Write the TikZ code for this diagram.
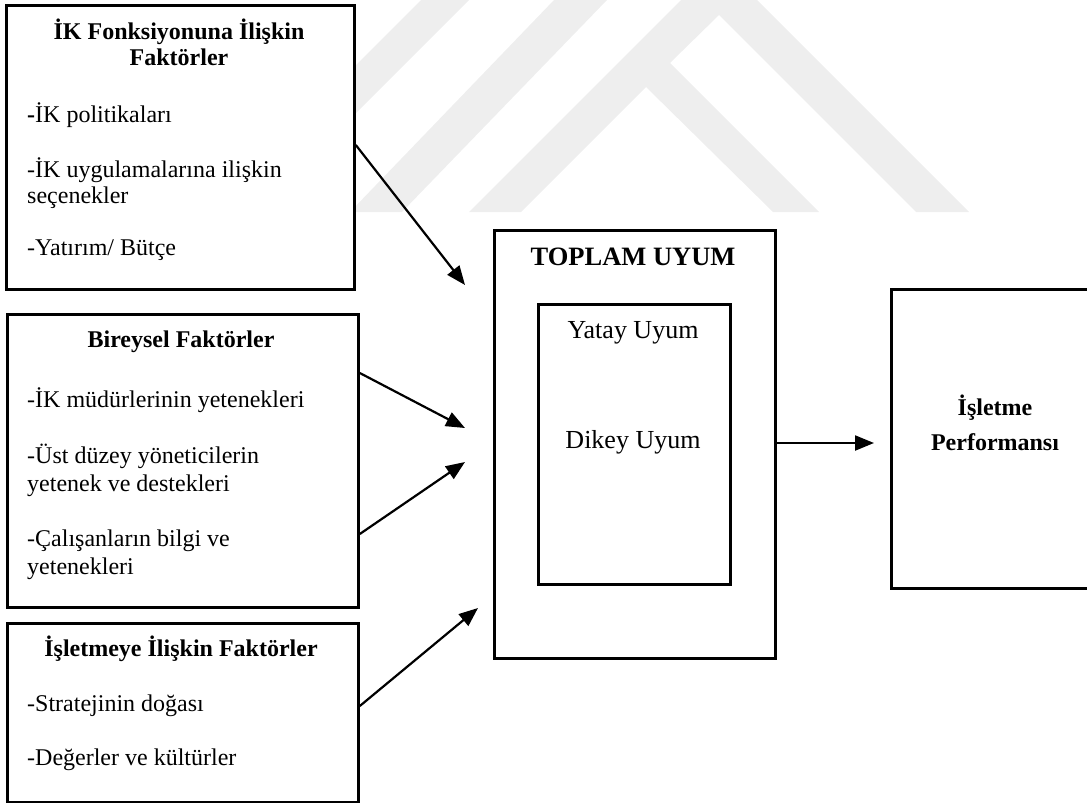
\documentclass[tikz,border=0pt]{standalone}
\usepackage{fontspec}
\setmainfont{Liberation Serif}
\usetikzlibrary{arrows.meta}
\definecolor{wmark}{HTML}{EEEEEE}
\begin{document}
\begin{tikzpicture}[x=1pt,y=-1pt,
  box/.style={draw, fill=white, line width=2.8pt, inner sep=0pt, anchor=north west},
  conn/.style={line width=2.2pt, -{Triangle[length=19pt,width=15pt]}},
  itm/.style={inner sep=0pt, anchor=base west, font=\fontsize{24}{28}\selectfont},
  ttl/.style={inner sep=0pt, anchor=base, font=\fontsize{24}{28}\selectfont\bfseries},
  big/.style={inner sep=0pt, anchor=base, font=\fontsize{26.5}{30}\selectfont\bfseries},
  mid/.style={inner sep=0pt, anchor=base, font=\fontsize{26}{30}\selectfont},
  wm/.style={fill=wmark, draw=none},
]
\useasboundingbox (0,0) rectangle (1087,803);
\clip (0,0) rectangle (1087,803);

% faint background watermark
\fill[wm] (421,0) -- (469,0) -- (257,212) -- (209,212) -- cycle;
\fill[wm] (554,0) -- (607,0) -- (402,212) -- (350,212) -- cycle;
\fill[wm] (469,212) -- (719,-38) -- (969,212) -- (916,212) -- (719,15)
   -- (670,63) -- (819,212) -- (773,212) -- (646,87) -- (521,212) -- cycle;

% boxes
\node[box, minimum width=348pt, minimum height=284pt] (A) at (5,4) {};
\node[box, minimum width=351pt, minimum height=293pt] (B) at (6,313) {};
\node[box, minimum width=351pt, minimum height=179pt] (C) at (6,622) {};
\node[box, minimum width=281pt, minimum height=428pt] (T) at (493,229) {};
\node[box, minimum width=192pt, minimum height=280pt] (I) at (537,303) {};
\node[box, minimum width=220pt, minimum height=299pt] (P) at (890,288) {};

% box A texts
\node[ttl] (a0) at (179,39) {İK Fonksiyonuna İlişkin};
\node[ttl] (a0b) at (179,65) {Faktörler};
\node[itm] (a1) at (27,122) {\textbf{-}İK politikaları};
\node[itm] (a2) at (27,177) {-İK uygulamalarına ilişkin};
\node[itm] (a2b) at (27,203) {seçenekler};
\node[itm] (a3) at (27,255) {-Yatırım/ Bütçe};

% box B texts
\node[ttl] (b0) at (181,347) {Bireysel Faktörler};
\node[itm] (b1) at (27,407) {-İK müdürlerinin yetenekleri};
\node[itm] (b2) at (27,463) {-Üst düzey yöneticilerin};
\node[itm] (b2b) at (27,491) {yetenek ve destekleri};
\node[itm] (b3) at (27,546) {-Çalışanların bilgi ve};
\node[itm] (b3b) at (27,574) {yetenekleri};

% box C texts
\node[ttl] (c0) at (181,656) {İşletmeye İlişkin Faktörler};
\node[itm] (c1) at (27,711) {-Stratejinin doğası};
\node[itm] (c2) at (27,765) {-Değerler ve kültürler};

% toplam uyum
\node[big] (t0) at (633,265) {TOPLAM UYUM};
\node[mid] (i1) at (633,338) {Yatay Uyum};
\node[mid] (i2) at (633,448) {Dikey Uyum};

% performans
\node[ttl] (p1) at (995,415) {İşletme};
\node[ttl] (p2) at (995,450) {Performansı};

% connectors
\coordinate (s1) at (A.east |- 0,145);
\coordinate (e1) at (465,285);
\coordinate (s2) at (B.east |- 0,373);
\coordinate (e2) at (465,428);
\coordinate (s3) at (B.east |- 0,534);
\coordinate (e3) at (465,462);
\coordinate (s4) at (C.east |- 0,706);
\coordinate (e4) at (478,608);
\coordinate (s5) at (T.east |- 0,443);
\coordinate (e5) at (874,443);
\draw[conn] (s1) -- (e1);
\draw[conn] (s2) -- (e2);
\draw[conn] (s3) -- (e3);
\draw[conn] (s4) -- (e4);
\draw[conn] (s5) -- (e5);
\end{tikzpicture}
\end{document}
